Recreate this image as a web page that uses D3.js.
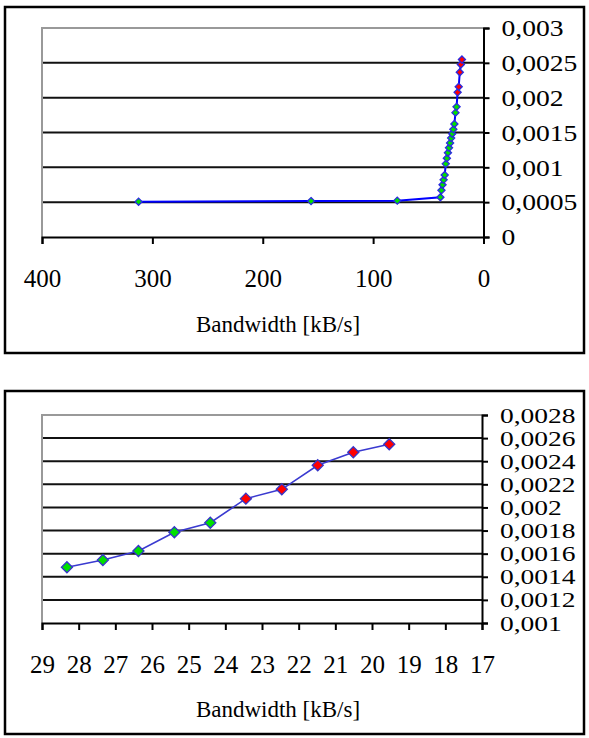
<!DOCTYPE html>
<html>
<head>
<meta charset="utf-8">
<script src="https://cdn.jsdelivr.net/npm/d3@7"></script>
<style>
  body { margin: 0; background: #fff; }
  svg text { font-family: "Liberation Serif", "Times New Roman", Times, "DejaVu Serif", serif !important; fill: #000; }
</style>
</head>
<body>
<div id="chart"></div>
<script>
// delay vs. bandwidth
var bandwidth = [312.5, 156.25, 78.125, 39.06, 38.09, 37.11, 36.13, 35.16, 34.18, 33.2, 32.23, 31.25,
  30.27, 29.3, 28.32, 27.34, 26.37, 25.39, 24.41, 23.44, 22.46, 21.48, 20.51, 19.53];
var delay = [0.000507, 0.000515, 0.000522, 0.00057, 0.00067, 0.00075, 0.00082, 0.00089, 0.00105, 0.00113, 0.00121, 0.00128,
  0.00135, 0.00142, 0.001482, 0.001545, 0.001623, 0.001785, 0.001868, 0.002076, 0.002157, 0.002365, 0.002477, 0.002547];
var highDelay = 0.002; // points at or above this are red

var topXTicks = [400, 300, 200, 100, 0];
var topYTicks = [0, 0.0005, 0.001, 0.0015, 0.002, 0.0025, 0.003];
var topYLabels = ["0", "0,0005", "0,001", "0,0015", "0,002", "0,0025", "0,003"];

var zoomXTicks = [29, 28, 27, 26, 25, 24, 23, 22, 21, 20, 19, 18, 17];
var zoomYTicks = [0.001, 0.0012, 0.0014, 0.0016, 0.0018, 0.002, 0.0022, 0.0024, 0.0026, 0.0028];
var zoomYLabels = ["0,001", "0,0012", "0,0014", "0,0016", "0,0018", "0,002", "0,0022", "0,0024", "0,0026", "0,0028"];

var xTitle = "Bandwidth [kB/s]";

var svg = d3.select("#chart")
  .append("svg")
  .attr("width", 589)
  .attr("height", 738);

var points = bandwidth.map(function(b, i) { return {bw: b, d: delay[i]}; });

function drawChart(c) {
  // outer frame
  svg.append("rect")
    .attr("x", c.frame[0]).attr("y", c.frame[1])
    .attr("width", c.frame[2]).attr("height", c.frame[3])
    .attr("fill", "#fff").attr("stroke", "#000").attr("stroke-width", 2.5);

  var x = d3.scaleLinear().domain(c.xDomain).range([c.left, c.right]);
  var y = d3.scaleLinear().domain(c.yDomain).range([c.bottom, c.top]);

  // gridlines
  svg.append("g").selectAll("line")
    .data(c.yTicks.slice(1, -1))
    .enter().append("line")
    .attr("x1", c.left).attr("x2", c.right)
    .attr("y1", d => y(d)).attr("y2", d => y(d))
    .attr("stroke", "#111").attr("stroke-width", 2);

  // grey plot border top + left
  svg.append("path")
    .attr("d", `M${c.left},${c.bottom}V${c.top}H${c.right}`)
    .attr("fill", "none").attr("stroke", "#999").attr("stroke-width", 2);

  var xAxis = svg.append("g")
    .attr("transform", `translate(0,${c.bottom})`)
    .call(d3.axisBottom(x).tickValues(c.xTicks).tickFormat(d3.format("d"))
      .tickSizeOuter(0).tickSize(7).tickPadding(25));
  xAxis.attr("font-family", null);
  xAxis.select(".domain").attr("stroke", "#000").attr("stroke-width", 2);
  xAxis.selectAll(".tick line").attr("stroke", "#000").attr("stroke-width", 2);
  xAxis.selectAll("text").attr("font-size", 25);

  var yAxis = svg.append("g")
    .attr("transform", `translate(${c.right},0)`)
    .call(d3.axisRight(y).tickValues(c.yTicks).tickFormat((d, i) => c.yLabels[i])
      .tickSizeOuter(0).tickSize(6));
  yAxis.attr("font-family", null);
  yAxis.select(".domain").attr("stroke", "#000").attr("stroke-width", 2);
  yAxis.selectAll(".tick line").attr("stroke", "#000").attr("stroke-width", 2);
  yAxis.selectAll("text")
    .attr("x", 0)
    .attr("transform", `translate(18,0) scale(${c.yLabelStretch},1)`)
    .attr("font-size", c.yLabelSize);

  svg.append("text")
    .attr("x", 278).attr("y", c.titleY)
    .attr("text-anchor", "middle")
    .attr("font-size", 23)
    .text(xTitle);

  var data = points.filter(p => p.bw <= c.xDomain[0] && p.d >= c.yDomain[0]);

  var line = d3.line().x(p => x(p.bw)).y(p => y(p.d));
  svg.append("path")
    .datum(data)
    .attr("d", line)
    .attr("fill", "none")
    .attr("stroke", c.lineColor)
    .attr("stroke-width", c.lineWidth);

  var sym = d3.symbol().type(d3.symbolDiamond2).size(c.markerSize);
  svg.append("g").selectAll("path")
    .data(data)
    .enter().append("path")
    .attr("transform", p => `translate(${x(p.bw)},${y(p.d)})`)
    .attr("d", sym)
    .attr("fill", p => p.d >= highDelay ? "#ff0000" : "#00e000")
    .attr("stroke", c.markerStroke)
    .attr("stroke-width", 1.3);
}

drawChart({
  frame: [5, 7, 579, 346],
  left: 42, right: 483.5, top: 28, bottom: 237,
  xDomain: [400, 0], yDomain: [0, 0.003],
  xTicks: topXTicks, yTicks: topYTicks, yLabels: topYLabels,
  yLabelSize: 24, yLabelStretch: 1.15,
  titleY: 332,
  lineColor: "#0000ff", lineWidth: 2,
  markerSize: 32, markerStroke: "#2a2ae0"
});

drawChart({
  frame: [5, 391, 579, 343],
  left: 42, right: 482, top: 415, bottom: 623,
  xDomain: [29, 17], yDomain: [0.001, 0.0028],
  xTicks: zoomXTicks, yTicks: zoomYTicks, yLabels: zoomYLabels,
  yLabelSize: 22, yLabelStretch: 1.25,
  titleY: 717,
  lineColor: "#3a3ad0", lineWidth: 1.6,
  markerSize: 78, markerStroke: "#3535c8"
});
</script>
</body>
</html>
